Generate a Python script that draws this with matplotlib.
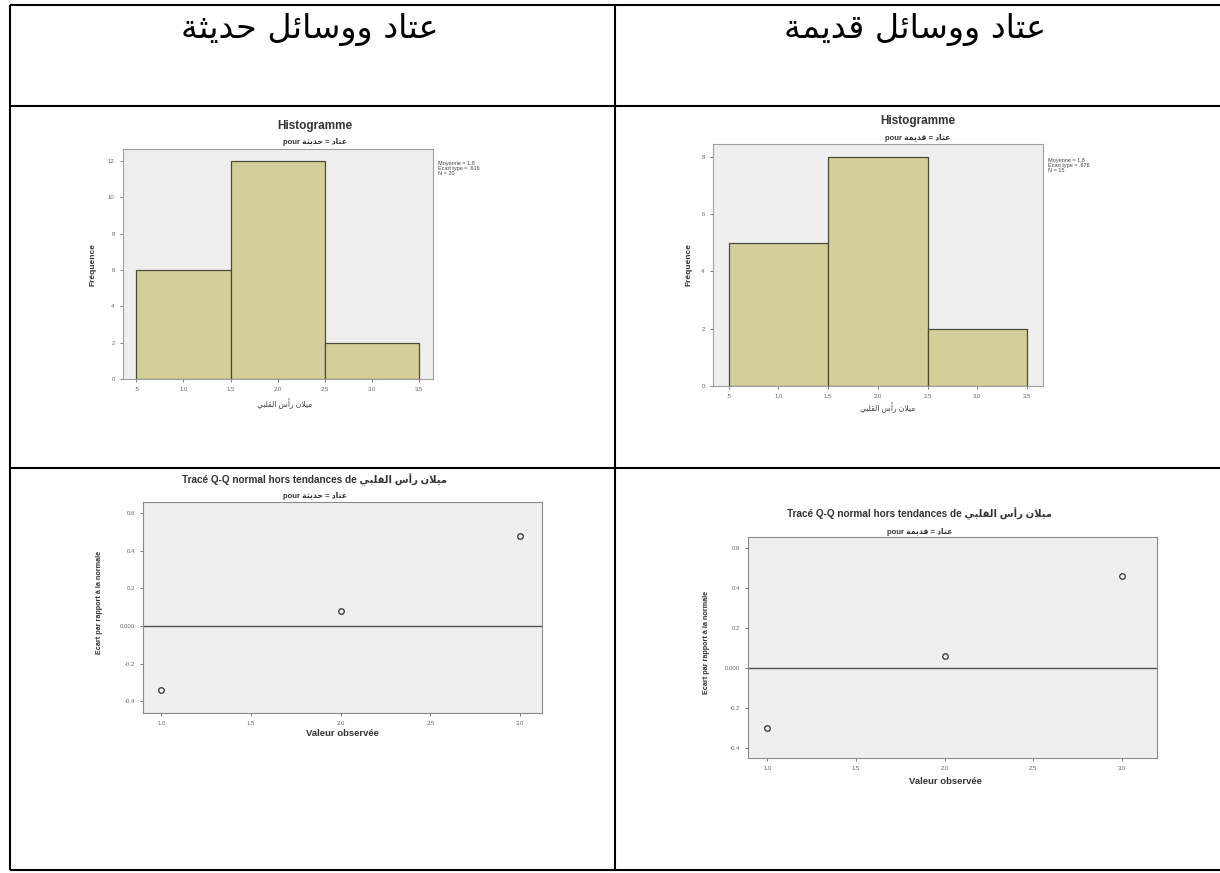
import matplotlib
matplotlib.use("Agg")
import matplotlib.pyplot as plt
import numpy as np

W, H = 1220, 873

# ---------------- data ----------------
col_titles = ["عتاد ووسائل حديثة", "عتاد ووسائل قديمة"]
group_names = ["حديثة", "قديمة"]
var_label = "ميلان رأس القلبي"

bin_edges = [0.5, 1.5, 2.5, 3.5]
hist_counts_modern = [6, 12, 2]
hist_counts_old = [5, 8, 2]
hist_xticks = [0.5, 1.0, 1.5, 2.0, 2.5, 3.0, 3.5]
hist_xticklabels = [".5", "1.0", "1.5", "2.0", "2.5", "3.0", "3.5"]
hist_yticks_modern = [0, 2, 4, 6, 8, 10, 12]
hist_yticks_old = [0, 2, 4, 6, 8]

qq_x = [1.0, 2.0, 3.0]
qq_dev_modern = [-0.34, 0.08, 0.48]
qq_dev_old = [-0.30, 0.06, 0.46]
qq_xticks = [1.0, 1.5, 2.0, 2.5, 3.0]
qq_xticklabels = ["1.0", "1.5", "2.0", "2.5", "3.0"]
qq_yticks = [-0.4, -0.2, 0.0, 0.2, 0.4, 0.6]
qq_yticklabels = ["-0.4", "-0.2", "0.000", "0.2", "0.4", "0.6"]

plt.rcParams['font.family'] = ['Liberation Sans', 'DejaVu Sans']

# ---------------- arabic shaping (contextual forms + visual order) ----------------
_FORMS = {
    'ا': ('\uFE8D', '\uFE8E', None, None),
    'أ': ('\uFE83', '\uFE84', None, None),
    'ب': ('\uFE8F', '\uFE90', '\uFE91', '\uFE92'),
    'ة': ('\uFE93', '\uFE94', None, None),
    'ت': ('\uFE95', '\uFE96', '\uFE97', '\uFE98'),
    'ث': ('\uFE99', '\uFE9A', '\uFE9B', '\uFE9C'),
    'ح': ('\uFEA1', '\uFEA2', '\uFEA3', '\uFEA4'),
    'د': ('\uFEA9', '\uFEAA', None, None),
    'ر': ('\uFEAD', '\uFEAE', None, None),
    'س': ('\uFEB1', '\uFEB2', '\uFEB3', '\uFEB4'),
    'ع': ('\uFEC9', '\uFECA', '\uFECB', '\uFECC'),
    'ق': ('\uFED5', '\uFED6', '\uFED7', '\uFED8'),
    'ل': ('\uFEDD', '\uFEDE', '\uFEDF', '\uFEE0'),
    'م': ('\uFEE1', '\uFEE2', '\uFEE3', '\uFEE4'),
    'ن': ('\uFEE5', '\uFEE6', '\uFEE7', '\uFEE8'),
    'و': ('\uFEED', '\uFEEE', None, None),
    'ي': ('\uFEF1', '\uFEF2', '\uFEF3', '\uFEF4'),
    'ئ': ('\uFE89', '\uFE8A', '\uFE8B', '\uFE8C'),
}
_LAM_ALEF = {'ا': ('\uFEFB', '\uFEFC'), 'أ': ('\uFEF7', '\uFEF8')}


def shape_arabic(text):
    def joins_next(c):
        f = _FORMS.get(c)
        return f is not None and f[2] is not None

    out = []
    prev = None
    i, n = 0, len(text)
    while i < n:
        c = text[i]
        f = _FORMS.get(c)
        if f is None:
            out.append(c)
            prev = None
            i += 1
            continue
        prev_joins = prev is not None and joins_next(prev)
        nxt = text[i + 1] if i + 1 < n else None
        if c == 'ل' and nxt in _LAM_ALEF:
            iso, fin = _LAM_ALEF[nxt]
            out.append(fin if prev_joins else iso)
            prev = nxt
            i += 2
            continue
        next_joins = f[2] is not None and nxt in _FORMS
        if prev_joins and next_joins:
            g = f[3]
        elif prev_joins:
            g = f[1]
        elif next_joins:
            g = f[2]
        else:
            g = f[0]
        out.append(g)
        prev = c
        i += 1
    return ''.join(reversed(out))


# ---------------- figure + table frame ----------------
fig = plt.figure(figsize=(W / 100, H / 100), dpi=100)
fig.patch.set_facecolor('white')

frame = fig.add_axes([0, 0, 1, 1], zorder=-1)
frame.set_xlim(0, W)
frame.set_ylim(H, 0)
frame.axis('off')
lw_table = 1.5
for yy in (5, 105.5, 467.5, 869.5):
    frame.plot([10, W], [yy, yy], color='black', lw=lw_table, solid_capstyle='butt')
for xx in (10, 615):
    frame.plot([xx, xx], [5, 869.5], color='black', lw=lw_table, solid_capstyle='butt')

frame.text(310, 29, shape_arabic(col_titles[0]), ha='center', va='center',
           fontsize=24, family=['DejaVu Sans'])
frame.text(915, 29, shape_arabic(col_titles[1]), ha='center', va='center',
           fontsize=24, family=['DejaVu Sans'])


def px_axes(left, top, right, bottom):
    return fig.add_axes([left / W, 1 - bottom / H, (right - left) / W, (bottom - top) / H])


def ftext(x, y, s, **kw):
    fig.text(x / W, 1 - y / H, s, **kw)


TICK_C = '#666666'


def style_axes(ax, spine_color):
    ax.set_facecolor('#efefef')
    for sp in ax.spines.values():
        sp.set_color(spine_color)
        sp.set_linewidth(0.8)
    ax.tick_params(axis='both', labelsize=4.3, colors=TICK_C, length=2.5, width=0.6,
                   direction='out')


def draw_hist(box, counts, yticks, ylim, xlim, title_y, sub_y, cx, stats_xy,
              ylab_x, xlab_y, group):
    ax = px_axes(*box)
    style_axes(ax, '#a0a0a0')
    edges = np.array(bin_edges)
    ax.bar(edges[:-1], counts, width=np.diff(edges), align='edge',
           color='#d4cf98', edgecolor='#4b4b3c', linewidth=0.9, zorder=3)
    ax.set_xlim(*xlim)
    ax.set_ylim(*ylim)
    ax.set_xticks(hist_xticks)
    ax.set_xticklabels(hist_xticklabels)
    ax.set_yticks(yticks)
    ax.set_yticklabels([str(t) for t in yticks])

    ftext(cx, title_y, "Histogramme", ha='center', va='center', fontsize=8.5,
          fontweight='bold', color='#333333')
    ftext(cx, sub_y, "pour " + shape_arabic("عتاد = " + group), ha='center',
          va='center', fontsize=5.5, fontweight='bold', color='#333333')
    ftext(ylab_x, (box[1] + box[3]) / 2, "Fréquence", rotation=90, ha='center',
          va='center', fontsize=6, fontweight='bold', color='#333333')
    ftext(cx - 30, xlab_y, shape_arabic(var_label), ha='center', va='center',
          fontsize=5.5, color='#444444')

    centers = (edges[:-1] + edges[1:]) / 2
    c = np.array(counts, dtype=float)
    n = int(c.sum())
    mean = (centers * c).sum() / n
    sd = np.sqrt((c * (centers - mean) ** 2).sum() / (n - 1))
    stats = "Moyenne = {:.1f}\nEcart type = {}\nN = {}".format(
        mean, "{:.3f}".format(sd).lstrip('0'), n)
    ftext(stats_xy[0], stats_xy[1], stats, ha='left', va='top', fontsize=4,
          color='#444444', linespacing=1.0)


def draw_qq(box, devs, ylim, xlim, title_y, sub_y, cx, ylab_x, xlab_y, xlab_x, group):
    ax = px_axes(*box)
    style_axes(ax, '#8a8a8a')
    ax.axhline(0, color='#505050', lw=1.0, zorder=2)
    ax.plot(qq_x, devs, linestyle='none', marker='o', markersize=4,
            markerfacecolor='none', markeredgecolor='#333333', markeredgewidth=0.9,
            zorder=3)
    ax.set_xlim(*xlim)
    ax.set_ylim(*ylim)
    ax.set_xticks(qq_xticks)
    ax.set_xticklabels(qq_xticklabels)
    ax.set_yticks(qq_yticks)
    ax.set_yticklabels(qq_yticklabels)

    ftext(cx, title_y, "Tracé Q-Q normal hors tendances de " + shape_arabic(var_label),
          ha='center', va='center', fontsize=7.2, fontweight='bold', color='#333333')
    ftext(cx, sub_y, "pour " + shape_arabic("عتاد = " + group), ha='center',
          va='center', fontsize=5.5, fontweight='bold', color='#333333')
    ftext(ylab_x, (box[1] + box[3]) / 2 - 5, "Ecart par rapport à la normale",
          rotation=90, ha='center', va='center', fontsize=5.2, fontweight='bold',
          color='#333333')
    ftext(xlab_x, xlab_y, "Valeur observée", ha='center', va='center', fontsize=6.8,
          fontweight='bold', color='#333333')


# modern equipment (left column)
draw_hist(box=(123, 149, 433, 379), counts=hist_counts_modern, yticks=hist_yticks_modern,
          ylim=(0, 12.67), xlim=(0.357, 3.653), title_y=126, sub_y=142, cx=315,
          stats_xy=(438, 161), ylab_x=93, xlab_y=404, group=group_names[0])
# old equipment (right column)
draw_hist(box=(713, 144, 1043, 386), counts=hist_counts_old, yticks=hist_yticks_old,
          ylim=(0, 8.45), xlim=(0.342, 3.661), title_y=121, sub_y=138, cx=918,
          stats_xy=(1048, 158), ylab_x=689, xlab_y=408, group=group_names[1])

draw_qq(box=(143, 502, 542, 713), devs=qq_dev_modern, ylim=(-0.4615, 0.658),
        xlim=(0.897, 3.123), title_y=480, sub_y=496, cx=315, ylab_x=100, xlab_y=734,
        xlab_x=342, group=group_names[0])
draw_qq(box=(748, 537, 1157, 758), devs=qq_dev_old, ylim=(-0.45, 0.655),
        xlim=(0.89, 3.20), title_y=514, sub_y=532, cx=920, ylab_x=707, xlab_y=781,
        xlab_x=945, group=group_names[1])

fig.savefig("out.png", dpi=100, facecolor='white')
